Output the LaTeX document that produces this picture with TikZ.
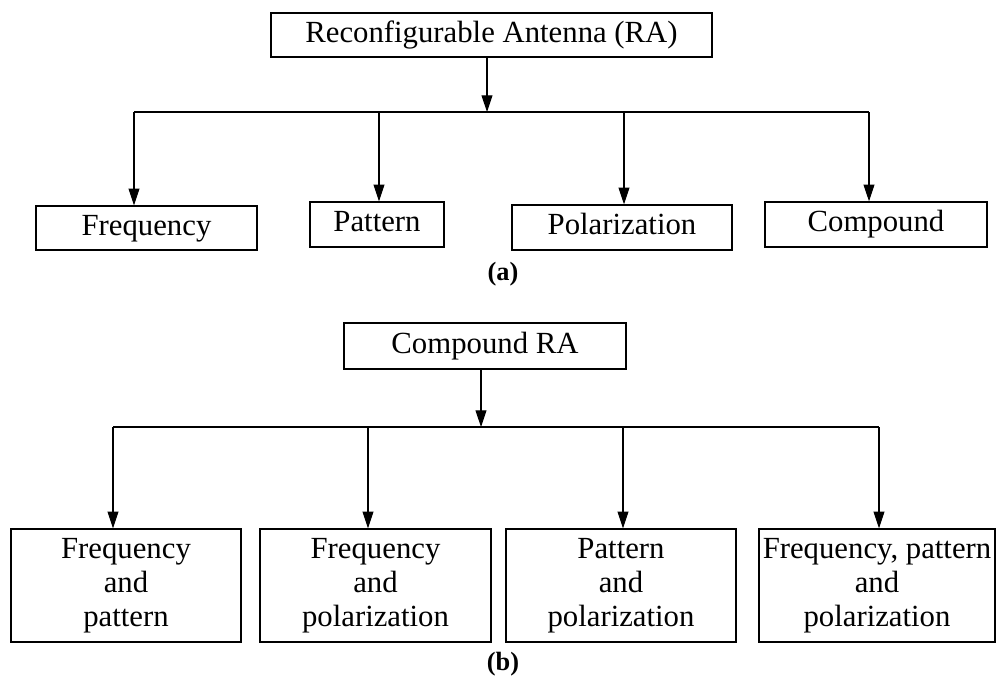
\documentclass[tikz,border=0pt]{standalone}
\usepackage{fontspec}
\setmainfont{Liberation Serif}
\usetikzlibrary{arrows.meta}

\begin{document}
\begin{tikzpicture}[x=0.02cm, y=-0.02cm,
    block/.style={draw, line width=0.8pt, inner xsep=1pt, align=center,
        font=\fontsize{17.5}{19.3}\selectfont},
    single/.style={block, text height=12pt, text depth=3.8pt},
    link/.style={line width=0.6pt},
    arrow/.style={link, -{Triangle[length=9.5pt, width=6.2pt]}},
    caption/.style={font=\fontsize{15}{17}\selectfont\bfseries}]

        \useasboundingbox (0,0) rectangle (996,681);

        % (a) Nodes
        \node[single, minimum width=8.82cm, minimum height=0.88cm] (ra) at (491.5,35) {Reconfigurable Antenna (RA)};
        \node[single, minimum width=4.42cm, minimum height=0.88cm] (freq) at (146.5,228) {Frequency};
        \node[single, minimum width=2.68cm, minimum height=0.9cm] (patt) at (377,224.5) {Pattern};
        \node[single, minimum width=4.40cm, minimum height=0.9cm] (pol) at (622,227.5) {Polarization};
        \node[single, minimum width=4.44cm, minimum height=0.9cm] (comp) at (876,224.5) {Compound};
        \node[caption] (capa) at (503,274) {(a)};

        % (a) Bus
        \coordinate (ja) at (487,112);
        \coordinate (a1) at (134,112);
        \coordinate (a2) at (379,112);
        \coordinate (a3) at (624,112);
        \coordinate (a4) at (869,112);

        % (a) Edges
        \draw[arrow] (ja |- ra.south) -- (ja);
        \draw[link] (a1) -- (a4);
        \draw[arrow] (a1) -- (a1 |- freq.north);
        \draw[arrow] (a2) -- (a2 |- patt.north);
        \draw[arrow] (a3) -- (a3 |- pol.north);
        \draw[arrow] (a4) -- (a4 |- comp.north);

        % (b) Nodes
        \node[single, minimum width=5.64cm, minimum height=0.92cm] (cra) at (485,346) {Compound RA};
        \node[block, minimum width=4.60cm, minimum height=2.26cm] (fp) at (126,585.5) {Frequency\\and\\pattern};
        \node[block, minimum width=4.62cm, minimum height=2.26cm] (fpol) at (375.5,585.5) {Frequency\\and\\polarization};
        \node[block, minimum width=4.60cm, minimum height=2.26cm] (ppol) at (621,585.5) {Pattern\\and\\polarization};
        \node[block, minimum width=4.72cm, minimum height=2.26cm] (all) at (877,585.5) {Frequency, pattern\\and\\polarization};
        \node[caption] (capb) at (503,664) {(b)};

        % (b) Bus
        \coordinate (jb) at (481,427);
        \coordinate (b1) at (113,427);
        \coordinate (b2) at (368,427);
        \coordinate (b3) at (623,427);
        \coordinate (b4) at (879,427);

        % (b) Edges
        \draw[arrow] (jb |- cra.south) -- (jb);
        \draw[link] (b1) -- (b4);
        \draw[arrow] (b1) -- (b1 |- fp.north);
        \draw[arrow] (b2) -- (b2 |- fpol.north);
        \draw[arrow] (b3) -- (b3 |- ppol.north);
        \draw[arrow] (b4) -- (b4 |- all.north);

\end{tikzpicture}
\end{document}
